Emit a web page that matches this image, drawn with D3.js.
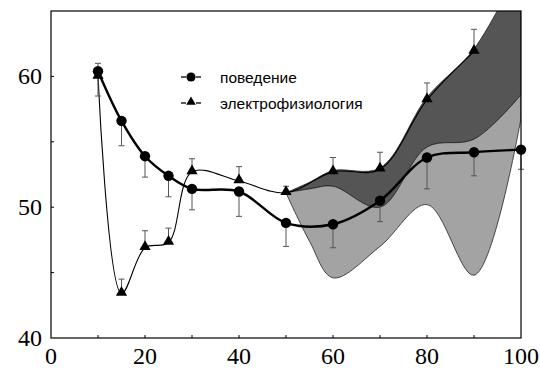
<!DOCTYPE html>
<html>
<head>
<meta charset="utf-8">
<script src="https://cdn.jsdelivr.net/npm/d3@7"></script>
<style>
  body { margin: 0; background: #fff; }
</style>
</head>
<body>
<div id="chart"></div>
<script>
// ages on the x axis
var ages = [10, 15, 20, 25, 30, 40, 50, 60, 70, 80, 90, 100];
var behavior = [60.4, 56.6, 53.9, 52.4, 51.4, 51.2, 48.8, 48.7, 50.5, 53.8, 54.2, 54.4];
var behaviorErr = [1.9, 1.9, 1.6, 1.6, 1.6, 1.9, 1.8, 1.8, 1.6, 2.4, 1.8, 1.5];

var electroAges = [10, 15, 20, 25, 30, 40, 50, 60, 70, 80, 90];
var electro = [60.0, 43.4, 46.9, 47.3, 52.7, 52.0, 51.1, 52.7, 52.9, 58.2, 61.9];
var electroErr = [1.0, 1.1, 1.3, 1.1, 1.0, 1.1, 0.5, 1.1, 1.3, 1.3, 1.7];

// shaded bands on the right
var bandAges = [50, 55, 60, 70, 80, 90, 100];
var bandTop = [51.1, 51.9, 52.8, 53.0, 58.4, 62.1, 68.5];
var bandMid = [51.1, 51.4, 51.6, 50.0, 54.6, 55.2, 58.6];
var bandLow = [51.1, 47.4, 44.6, 47.0, 50.2, 44.8, 56.8];

var xTicks = [0, 20, 40, 60, 80, 100];
var yTicks = [40, 50, 60];
var legendLabels = ["поведение", "электрофизиология"];

var width = 540, height = 369;
var plotLeft = 51, plotRight = 521, plotTop = 11, plotBottom = 338;
var serif = "'Liberation Serif', 'Times New Roman', Times, serif";
var sans = "'Liberation Sans', Arial, Helvetica, sans-serif";

var svg = d3.select("#chart")
    .append("svg")
    .attr("width", width)
    .attr("height", height);

var x = d3.scaleLinear().domain([0, 100]).range([plotLeft, plotRight]);
var y = d3.scaleLinear().domain([40, 65]).range([plotBottom, plotTop]);

var curve = d3.curveCatmullRom.alpha(0.5);

svg.append("clipPath").attr("id", "plot-clip")
    .append("rect")
    .attr("x", plotLeft).attr("y", plotTop)
    .attr("width", plotRight - plotLeft).attr("height", plotBottom - plotTop);

var plot = svg.append("g").attr("clip-path", "url(#plot-clip)");

var bands = bandAges.map(function (a, i) {
    return { age: a, top: bandTop[i], mid: bandMid[i], low: bandLow[i] };
});

// dark band (between top and middle edge)
plot.append("path")
    .datum(bands)
    .attr("d", d3.area().curve(curve)
        .x(function (d) { return x(d.age); })
        .y0(function (d) { return y(d.mid); })
        .y1(function (d) { return y(d.top); }))
    .attr("fill", "#555555")
    .attr("stroke", "#222")
    .attr("stroke-width", 0.8);

// light band (between middle and low edge)
plot.append("path")
    .datum(bands)
    .attr("d", d3.area().curve(curve)
        .x(function (d) { return x(d.age); })
        .y0(function (d) { return y(d.low); })
        .y1(function (d) { return y(d.mid); }))
    .attr("fill", "#a3a3a3")
    .attr("stroke", "#222")
    .attr("stroke-width", 0.8);

// lines
var electroLine = d3.line().curve(curve)
    .x(function (d, i) { return x(electroAges[i]); })
    .y(function (d) { return y(d); });

var behaviorLine = d3.line().curve(curve)
    .x(function (d, i) { return x(ages[i]); })
    .y(function (d) { return y(d); });

plot.append("path")
    .datum(electro)
    .attr("d", electroLine)
    .attr("fill", "none")
    .attr("stroke", "#000")
    .attr("stroke-width", 1.1);

plot.append("path")
    .datum(behavior)
    .attr("d", behaviorLine)
    .attr("fill", "none")
    .attr("stroke", "#000")
    .attr("stroke-width", 2.4);

// error bars: behavior goes down, electro goes up
var cap = 3;
function errBar(g, ax, v0, v1) {
    g.append("line")
        .attr("x1", x(ax)).attr("x2", x(ax))
        .attr("y1", y(v0)).attr("y2", y(v1));
    g.append("line")
        .attr("x1", x(ax) - cap).attr("x2", x(ax) + cap)
        .attr("y1", y(v1)).attr("y2", y(v1));
}
var bars = svg.append("g").attr("stroke", "#555").attr("stroke-width", 1);
ages.forEach(function (a, i) { errBar(bars, a, behavior[i], behavior[i] - behaviorErr[i]); });
electroAges.forEach(function (a, i) { errBar(bars, a, electro[i], electro[i] + electroErr[i]); });

// markers
svg.append("g").selectAll("circle")
    .data(behavior)
    .join("circle")
    .attr("cx", function (d, i) { return x(ages[i]); })
    .attr("cy", function (d) { return y(d); })
    .attr("r", 5.2)
    .attr("fill", "#000");

var tri = d3.symbol().type(d3.symbolTriangle).size(55);
svg.append("g").selectAll("path")
    .data(electro)
    .join("path")
    .attr("d", tri)
    .attr("transform", function (d, i) { return "translate(" + x(electroAges[i]) + "," + (y(d) - 1) + ")"; })
    .attr("fill", "#000");

// frame and inward ticks
svg.append("rect")
    .attr("x", plotLeft).attr("y", plotTop)
    .attr("width", plotRight - plotLeft).attr("height", plotBottom - plotTop)
    .attr("fill", "none").attr("stroke", "#000").attr("stroke-width", 1.2);

var ticks = svg.append("g").attr("stroke", "#000").attr("stroke-width", 1);
d3.range(10, 100, 10).forEach(function (t) {
    ticks.append("line")
        .attr("x1", x(t)).attr("x2", x(t))
        .attr("y1", plotBottom).attr("y2", plotBottom - 3);
});
d3.range(45, 65, 5).forEach(function (t) {
    ticks.append("line")
        .attr("x1", plotLeft).attr("x2", plotLeft + 3)
        .attr("y1", y(t)).attr("y2", y(t));
});

// tick labels
svg.append("g").selectAll("text")
    .data(xTicks)
    .join("text")
    .attr("x", function (d) { return x(d); })
    .attr("y", 364)
    .attr("text-anchor", "middle")
    .style("font-family", serif)
    .style("font-size", "24px")
    .text(function (d) { return d; });

svg.append("g").selectAll("text")
    .data(yTicks)
    .join("text")
    .attr("x", 42)
    .attr("y", function (d) { return y(d) + 8; })
    .attr("text-anchor", "end")
    .style("font-family", serif)
    .style("font-size", "24px")
    .text(function (d) { return d; });

// legend
var legend = svg.append("g");
legendLabels.forEach(function (label, i) {
    var ly = 77 + i * 26;
    legend.append("line").attr("x1", 181).attr("x2", 186).attr("y1", ly).attr("y2", ly)
        .attr("stroke", "#000").attr("stroke-width", 1.3);
    legend.append("line").attr("x1", 196).attr("x2", 201).attr("y1", ly).attr("y2", ly)
        .attr("stroke", "#000").attr("stroke-width", 1.3);
    if (i === 0) {
        legend.append("circle").attr("cx", 191).attr("cy", ly).attr("r", 4.6).attr("fill", "#000");
    } else {
        legend.append("path").attr("d", d3.symbol().type(d3.symbolTriangle).size(40))
            .attr("transform", "translate(191," + (ly - 1) + ")").attr("fill", "#000");
    }
    legend.append("text")
        .attr("x", 220).attr("y", ly + 6)
        .style("font-family", sans)
        .style("font-size", "15.5px")
        .text(label);
});
</script>
</body>
</html>
